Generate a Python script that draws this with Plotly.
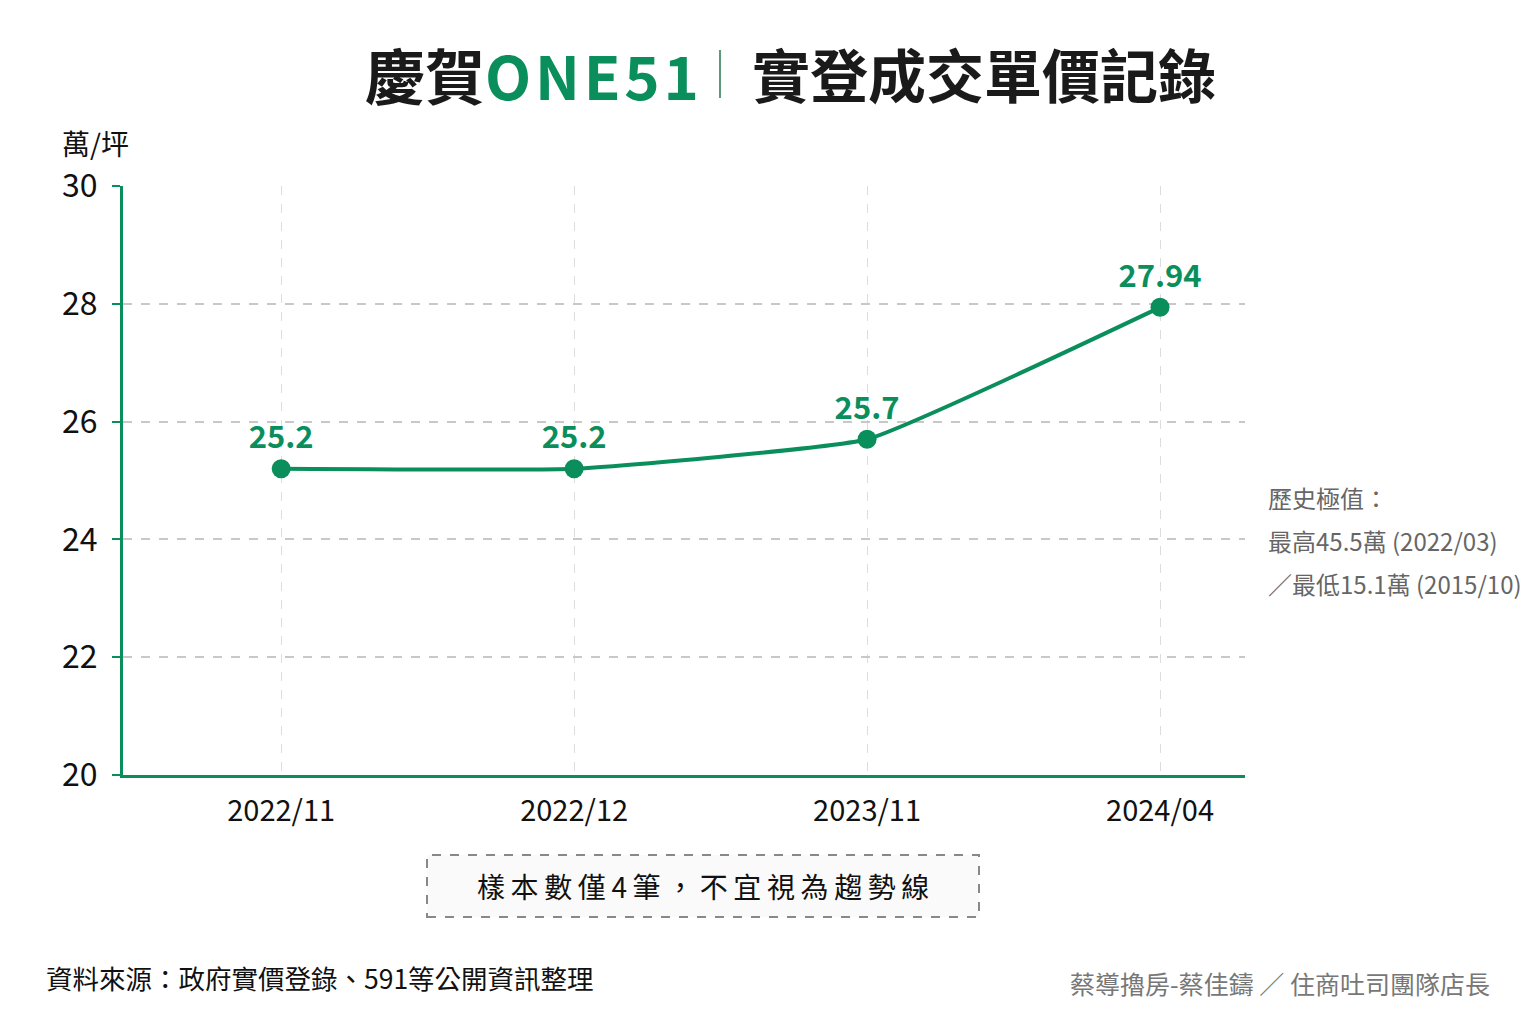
import plotly.graph_objects as go

# 成交月份與單價（萬/坪）
months = ["2022/11", "2022/12", "2023/11", "2024/04"]
prices = [25.2, 25.2, 25.7, 27.94]
price_labels = ["25.2", "25.2", "25.7", "27.94"]
y_ticks = [20, 22, 24, 26, 28, 30]

history_lines = ["歷史極值：", "最高45.5萬 (2022/03)", "／最低15.1萬 (2015/10)"]

GREEN = "#0a8f5c"
FONT = "Noto Sans CJK TC"

# 繪圖區在畫面上的位置（像素）
PX0, PX1, PY0, PY1 = 123, 1245, 186, 775


def px(x):
    return (x - PX0) / (PX1 - PX0)


def py(y):
    return (PY1 - y) / (PY1 - PY0)


fig = go.Figure()
fig.add_trace(go.Scatter(
    x=months, y=prices,
    mode="lines+markers+text",
    line=dict(color=GREEN, width=4, shape="spline", smoothing=0.35),
    marker=dict(color=GREEN, size=19),
    text=["<b>%s</b>" % t for t in price_labels],
    textposition="top center",
    textfont=dict(family=FONT, size=31, color=GREEN),
    hoverinfo="skip",
    showlegend=False,
))

fig.update_layout(
    width=1536, height=1024,
    margin=dict(l=PX0 - 8, r=1536 - PX1 + 8, t=PY0 - 8, b=1024 - PY1 + 8),
    paper_bgcolor="white", plot_bgcolor="white",
    font=dict(family=FONT, color="#111"),
)
fig.update_xaxes(
    type="category", range=[-0.54, 3.29],
    showline=True, linecolor=GREEN, linewidth=3,
    showgrid=True, gridcolor="#dddddd", griddash="dash", gridwidth=1,
    ticks="", tickfont=dict(size=29, color="#111", family=FONT),
    ticklabelstandoff=8, zeroline=False,
)
fig.update_yaxes(
    range=[20, 30], tickvals=y_ticks,
    showline=True, linecolor=GREEN, linewidth=3,
    showgrid=True, gridcolor="#c8c8c8", griddash="dash", gridwidth=1.5,
    ticks="outside", ticklen=8, tickcolor=GREEN, tickwidth=2,
    tickfont=dict(size=32, color="#111", family=FONT),
    ticklabelstandoff=8, zeroline=False,
)

# 標題
fig.add_annotation(xref="paper", yref="paper", x=px(701), y=py(73),
                   xanchor="right", yanchor="middle", showarrow=False,
                   text="<b>慶賀<span style='color:#0a8f5c'>%s</span></b>" % "\u200a".join("ONE51"),
                   font=dict(family=FONT, size=60, color="#1a1a1a"))
fig.add_annotation(xref="paper", yref="paper", x=px(750), y=py(73),
                   xanchor="left", yanchor="middle", showarrow=False,
                   text="<b>實登成交單價記錄</b>",
                   font=dict(family=FONT, size=58, color="#1a1a1a"))
fig.add_shape(type="line", xref="paper", yref="paper",
              x0=px(720), x1=px(720), y0=py(98), y1=py(50),
              line=dict(color="#5a9a7a", width=2))

# 單位
fig.add_annotation(xref="paper", yref="paper", x=px(60), y=py(143),
                   xanchor="left", yanchor="middle", showarrow=False,
                   text="萬/坪", font=dict(family=FONT, size=28, color="#111"))

# 歷史極值
for i, line in enumerate(history_lines):
    fig.add_annotation(xref="paper", yref="paper", x=px(1266), y=py(497 + 43 * i),
                       xanchor="left", yanchor="middle", showarrow=False,
                       text=line, font=dict(family=FONT, size=24, color="#666666"))

# 提示框
fig.add_shape(type="rect", xref="paper", yref="paper",
              x0=px(427), x1=px(979), y0=py(917), y1=py(855),
              line=dict(color="#888888", width=2, dash="dash"),
              fillcolor="#fafafa", layer="below")
fig.add_annotation(xref="paper", yref="paper", x=px(703), y=py(886),
                   xanchor="center", yanchor="middle", showarrow=False,
                   text="\u2009".join("樣本數僅4筆，不宜視為趨勢線"),
                   font=dict(family=FONT, size=28, color="#111"))

# 資料來源與署名
fig.add_annotation(xref="paper", yref="paper", x=px(44), y=py(977),
                   xanchor="left", yanchor="middle", showarrow=False,
                   text="資料來源：政府實價登錄、591等公開資訊整理",
                   font=dict(family=FONT, size=26.5, color="#111"))
fig.add_annotation(xref="paper", yref="paper", x=px(1492), y=py(983),
                   xanchor="right", yanchor="middle", showarrow=False,
                   text="蔡導擼房-蔡佳鑄 ／ 住商吐司團隊店長",
                   font=dict(family=FONT, size=25, color="#777777"))

fig.write_html("out.html")
